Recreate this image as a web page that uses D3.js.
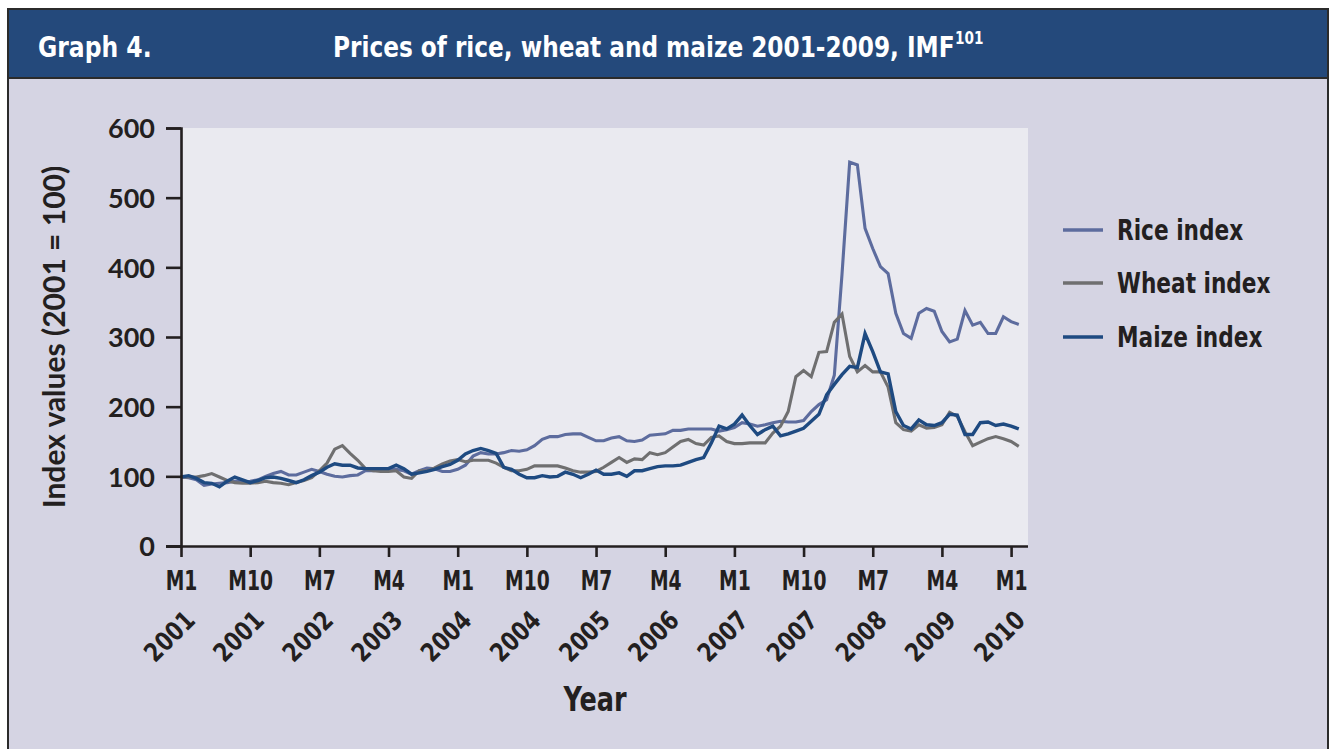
<!DOCTYPE html>
<html>
<head>
<meta charset="utf-8">
<script src="https://cdn.jsdelivr.net/npm/d3@7"></script>
<style>
  html, body { margin: 0; padding: 0; background: #ffffff; }
  svg { display: block; }
  .cond { font-family: "DejaVu Sans Condensed", "DejaVu Sans", sans-serif; font-weight: 700; }
  .norm { font-family: Lato, Roboto, "Open Sans", sans-serif; font-weight: 700; }
</style>
</head>
<body>
<svg id="chart" width="1331" height="749"></svg>
<script>
// ---------- data (monthly, Jan 2001 .. Feb 2010) ----------
const seriesNames = ["Rice index", "Wheat index", "Maize index"];
const seriesColors = ["#5d6c9e", "#6f6f70", "#1e4a81"];

const rice = [99, 98, 95, 87, 89, 90, 91, 93, 92, 93, 95, 100, 104, 107, 102, 102, 106, 110, 107, 103,
  100, 99, 101, 102, 108, 108, 109, 110, 110, 108, 103, 108, 112, 111, 107, 107, 110, 116, 129, 134,
  132, 132, 134, 137, 136, 138, 144, 153, 157, 157, 160, 161, 161, 156, 151, 151, 155, 157, 151, 150,
  152, 159, 160, 161, 166, 166, 168, 168, 168, 168, 165, 167, 170, 177, 175, 172, 174, 177, 179, 178,
  178, 180, 193, 203, 210, 245, 390, 551, 547, 456, 427, 401, 391, 334, 305, 298, 334, 341, 337, 308,
  293, 297, 338, 317, 321, 305, 305, 329, 322, 318];

const wheat = [99, 99, 99, 101, 104, 99, 94, 91, 90, 90, 91, 93, 91, 90, 88, 91, 94, 98, 108, 119,
  139, 144, 133, 123, 111, 108, 107, 107, 108, 99, 97, 108, 108, 112, 118, 122, 124, 121, 123, 123,
  123, 119, 113, 108, 108, 110, 115, 115, 115, 115, 112, 108, 106, 106, 107, 113, 120, 127, 120, 125,
  124, 134, 131, 134, 142, 150, 153, 147, 145, 156, 158, 150, 147, 147, 148, 148, 148, 162, 172, 193,
  243, 252, 243, 278, 279, 321, 333, 272, 250, 259, 250, 250, 228, 177, 167, 165, 174, 169, 170, 174,
  192, 186, 164, 144, 149, 154, 157, 154, 150, 143];

const maize = [99, 101, 97, 91, 90, 85, 93, 99, 95, 91, 94, 98, 99, 97, 94, 91, 95, 101, 106, 113,
  118, 116, 116, 112, 111, 111, 111, 111, 116, 111, 103, 105, 107, 110, 114, 117, 123, 132, 137, 140,
  137, 133, 113, 110, 103, 98, 98, 101, 99, 100, 106, 103, 98, 103, 109, 103, 103, 105, 100, 108,
  108, 111, 114, 115, 115, 116, 120, 124, 127, 148, 172, 168, 175, 188, 173, 160, 167, 172, 158, 161,
  165, 169, 179, 189, 217, 232, 246, 258, 256, 305, 279, 250, 247, 193, 173, 168, 181, 174, 173, 177,
  189, 188, 160, 160, 177, 178, 173, 175, 172, 168];

const tickIndex = [0, 9, 18, 27, 36, 45, 54, 63, 72, 81, 90, 99, 108];
const tickMonths = ["M1", "M10", "M7", "M4", "M1", "M10", "M7", "M4", "M1", "M10", "M7", "M4", "M1"];
const tickYears = ["2001", "2001", "2002", "2003", "2004", "2004", "2005", "2006", "2007", "2007", "2008", "2009", "2010"];
const yTicks = [0, 100, 200, 300, 400, 500, 600];

const allSeries = [rice, wheat, maize];

// ---------- drawing ----------
const svg = d3.select("#chart");
const SX = 0.86; // horizontal squeeze to mimic a condensed face

function condText(parent, x, y, size, txt, opts = {}) {
  const g = parent.append("g").attr("transform", `translate(${x},${y}) scale(${opts.sx || SX},1)`);
  const t = g.append("text").attr("class", "cond").attr("font-size", size)
    .attr("fill", opts.fill || "#231f20").attr("text-anchor", opts.anchor || "start").text(txt);
  return t;
}

// panel
svg.append("rect").attr("x", 8).attr("y", 9).attr("width", 1320).attr("height", 760)
  .attr("fill", "#d5d4e3").attr("stroke", "#2b2b2b").attr("stroke-width", 2);
svg.append("rect").attr("x", 8).attr("y", 9).attr("width", 1320).attr("height", 69)
  .attr("fill", "#24497b").attr("stroke", "#2b2b2b").attr("stroke-width", 2);

condText(svg, 38, 57, 29, "Graph 4.", { fill: "#ffffff", sx: 0.9 });
condText(svg, 333, 57, 29, "Prices of rice, wheat and maize 2001-2009, IMF", { fill: "#ffffff", sx: 0.89 });
condText(svg, 955, 44, 17, "101", { fill: "#ffffff", sx: 0.89 });

const m = { left: 181, right: 1028, top: 128, bottom: 546 };
const x = d3.scaleLinear().domain([0, 110.2]).range([m.left, m.right]);
const y = d3.scaleLinear().domain([0, 600]).range([m.bottom, m.top]);

svg.append("rect").attr("x", m.left).attr("y", m.top)
  .attr("width", m.right - m.left).attr("height", m.bottom - m.top)
  .attr("fill", "#eaeaf0");

// lines
const line = d3.line().x((d, i) => x(i)).y(d => y(d));
const g = svg.append("g");
allSeries.forEach((s, k) => {
  g.append("path").datum(s).attr("d", line)
    .attr("fill", "none").attr("stroke", seriesColors[k])
    .attr("stroke-width", k === 2 ? 3.4 : 3.1).attr("stroke-linejoin", "miter");
});

// y axis
const yAxis = svg.append("g").attr("transform", `translate(${m.left},0)`)
  .call(d3.axisLeft(y).tickValues(yTicks).tickSize(15).tickPadding(11).tickFormat(d3.format("d")));
yAxis.select(".domain").attr("stroke", "#231f20").attr("stroke-width", 2.6);
yAxis.selectAll(".tick line").attr("stroke", "#231f20").attr("stroke-width", 2.6);
yAxis.selectAll(".tick text").attr("class", "norm").attr("font-size", 27)
  .attr("fill", "#231f20").attr("dy", "0.36em");

// x axis
const xAxis = svg.append("g").attr("transform", `translate(0,${m.bottom})`)
  .call(d3.axisBottom(x).tickValues(tickIndex).tickSize(11).tickPadding(10)
    .tickFormat((d, i) => tickMonths[i]));
xAxis.select(".domain").attr("stroke", "#231f20").attr("stroke-width", 2.6)
  .attr("d", `M${m.left - 15},0.5H${m.right}`);
xAxis.selectAll(".tick line").attr("stroke", "#231f20").attr("stroke-width", 2.6);
xAxis.selectAll(".tick text").attr("class", "cond").attr("font-size", 26)
  .attr("fill", "#231f20").attr("dy", "0.9em").attr("transform", "scale(0.8,1)");
xAxis.selectAll(".tick").append("text")
  .attr("class", "cond").attr("font-size", 26).attr("fill", "#231f20")
  .attr("text-anchor", "end")
  .attr("transform", "translate(15,76) rotate(-45) scale(0.9,1)")
  .text((d, i) => tickYears[i]);

// axis titles
condText(svg, 595, 711, 33, "Year", { anchor: "middle", sx: 0.86 });
svg.append("text").attr("class", "norm").attr("font-size", 30).attr("fill", "#231f20")
  .attr("text-anchor", "middle")
  .attr("transform", "translate(65,337) rotate(-90)").text("Index values (2001 = 100)");

// legend
seriesNames.forEach((n, k) => {
  const yy = [230, 283, 337][k];
  svg.append("line").attr("x1", 1063).attr("x2", 1103).attr("y1", yy).attr("y2", yy)
    .attr("stroke", seriesColors[k]).attr("stroke-width", 3.5);
  condText(svg, 1117, yy + 10, 28, n, { sx: 0.86 });
});
</script>
</body>
</html>
